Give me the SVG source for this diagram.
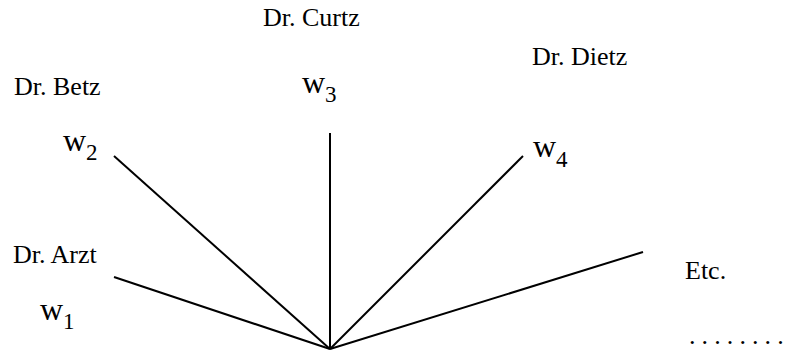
<svg xmlns="http://www.w3.org/2000/svg" width="790" height="350" viewBox="0 0 790 350">
<style>
.lbl{font-family:"Liberation Serif","Times New Roman",serif;font-size:26px;fill:#000}
.w{font-family:"Liberation Serif","Times New Roman",serif;font-size:32px;fill:#000}
.sub{font-size:23px}
.edge{stroke:#000;stroke-width:2;fill:none}
</style>
<rect width="790" height="350" fill="#fff"/>
<g id="connectors">
<line class="edge" x1="114" y1="277" x2="330" y2="349"/>
<line class="edge" x1="114" y1="156" x2="330" y2="349"/>
<line class="edge" x1="330" y1="133" x2="330" y2="349"/>
<line class="edge" x1="523" y1="156" x2="330" y2="349"/>
<line class="edge" x1="643" y1="252" x2="330" y2="349"/>
</g>
<g id="arzt">
<text class="lbl" x="13" y="263">Dr. Arzt</text>
<text class="w" x="40" y="320">w<tspan class="sub" dy="9">1</tspan></text>
</g>
<g id="betz">
<text class="lbl" x="14" y="95">Dr. Betz</text>
<text class="w" x="63" y="151">w<tspan class="sub" dy="9">2</tspan></text>
</g>
<g id="curtz">
<text class="lbl" x="263" y="26">Dr. Curtz</text>
<text class="w" x="302" y="93">w<tspan class="sub" dy="9">3</tspan></text>
</g>
<g id="dietz">
<text class="lbl" x="532" y="65">Dr. Dietz</text>
<text class="w" x="533" y="157">w<tspan class="sub" dy="10">4</tspan></text>
</g>
<g id="etc">
<text class="lbl" x="685" y="279">Etc.</text>
<text class="lbl" x="689 701.6 714.2 726.8 739.4 752 764.6 777.2" y="344">........</text>
</g>
</svg>
